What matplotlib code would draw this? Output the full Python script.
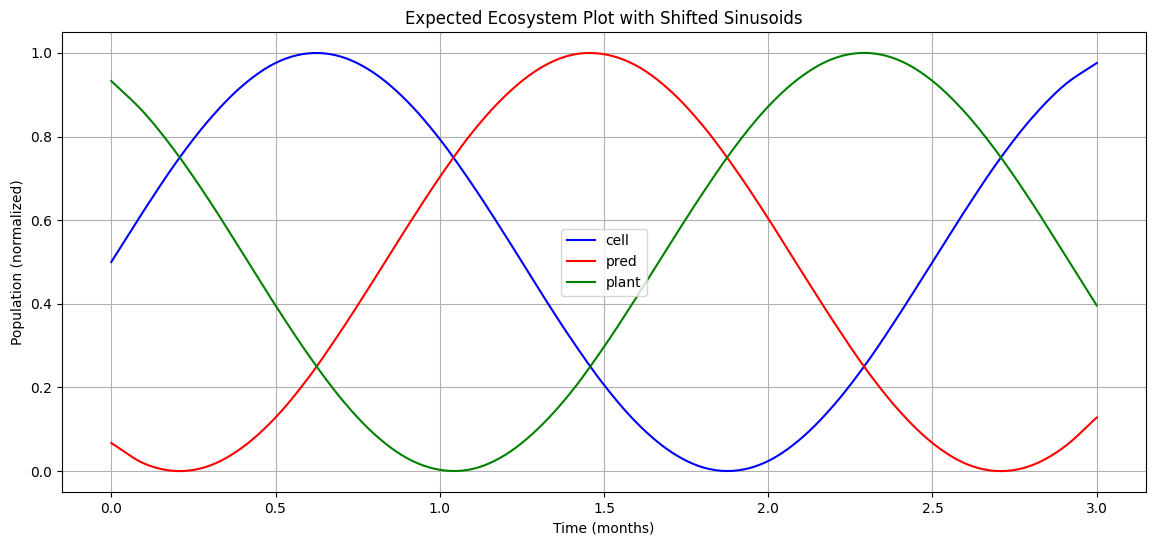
import numpy as np
import matplotlib
matplotlib.use("Agg")
import matplotlib.pyplot as plt

time = [round(0.1 * i, 1) for i in range(31)]
cell = [0.5, 0.624, 0.741, 0.842, 0.922, 0.976, 0.999, 0.991, 0.952, 0.885, 0.794,
        0.684, 0.563, 0.437, 0.316, 0.206, 0.115, 0.048, 0.009, 0.001, 0.024,
        0.078, 0.158, 0.259, 0.376, 0.5, 0.624, 0.741, 0.842, 0.922, 0.976]
pred = [0.067, 0.018, 0.000, 0.013, 0.057, 0.128, 0.223, 0.336, 0.458, 0.583, 0.703,
        0.811, 0.898, 0.961, 0.995, 0.997, 0.969, 0.911, 0.827, 0.722, 0.604,
        0.479, 0.356, 0.241, 0.143, 0.067, 0.018, 0.000, 0.013, 0.057, 0.128]
plant = [0.933, 0.857, 0.759, 0.645, 0.521, 0.396, 0.278, 0.173, 0.089, 0.031, 0.003,
         0.005, 0.039, 0.102, 0.189, 0.297, 0.417, 0.542, 0.664, 0.777, 0.872,
         0.943, 0.987, 1.000, 0.982, 0.933, 0.857, 0.759, 0.645, 0.521, 0.396]


def smooth(x, y, n=12):
    x = np.asarray(x, float); y = np.asarray(y, float)
    xp = np.concatenate([[2 * x[0] - x[1]], x, [2 * x[-1] - x[-2]]])
    yp = np.concatenate([[2 * y[0] - y[1]], y, [2 * y[-1] - y[-2]]])
    xs, ys = [], []
    for i in range(1, len(xp) - 2):
        t = np.linspace(0, 1, n, endpoint=False)
        for arr, out in ((xp, xs), (yp, ys)):
            p0, p1, p2, p3 = arr[i - 1], arr[i], arr[i + 1], arr[i + 2]
            out.extend(0.5 * (2 * p1 + (-p0 + p2) * t + (2 * p0 - 5 * p1 + 4 * p2 - p3) * t**2
                              + (-p0 + 3 * p1 - 3 * p2 + p3) * t**3))
    xs.append(x[-1]); ys.append(y[-1])
    return np.array(xs), np.array(ys)


fig = plt.figure(figsize=(11.56, 5.45), dpi=100)
ax = fig.add_axes([62 / 1156, 53 / 545, 1084 / 1156, 460 / 545])
for y, c, lab in ((cell, "blue", "cell"), (pred, "red", "pred"), (plant, "green", "plant")):
    xs, ys = smooth(time, y)
    ax.plot(xs, ys, color=c, label=lab)
ax.set_title("Expected Ecosystem Plot with Shifted Sinusoids")
ax.set_xlabel("Time (months)")
ax.set_ylabel("Population (normalized)")
ax.grid(True)
ax.legend(loc="center")
fig.savefig("out.png", dpi=100)
